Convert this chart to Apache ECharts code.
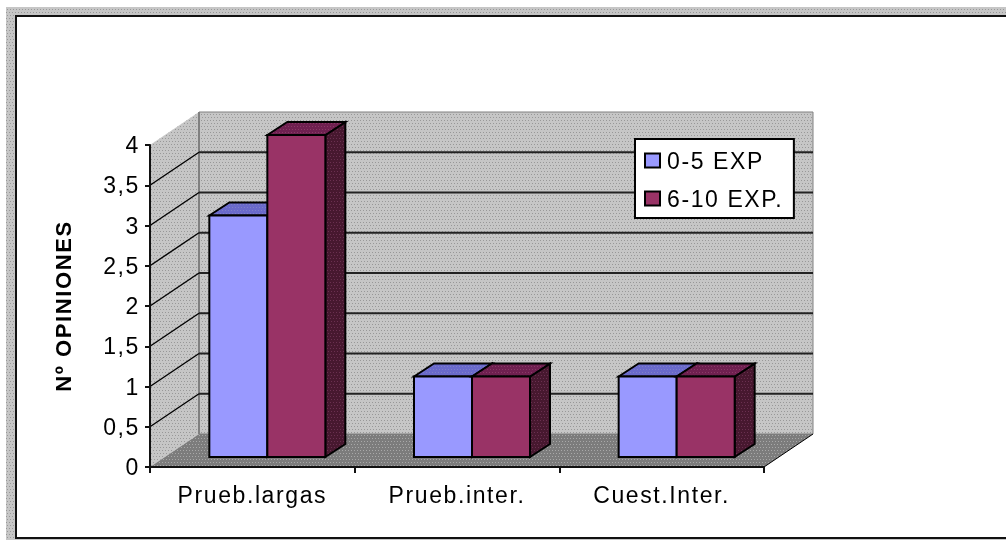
<!DOCTYPE html>
<html>
<head>
<meta charset="utf-8">
<style>
  html, body { margin: 0; padding: 0; background: #fff; }
  #main { width: 1006px; height: 540px; filter: blur(0.45px); }
  #main text { letter-spacing: 1.6px; }
</style>
<script src="https://cdn.jsdelivr.net/npm/echarts@6/dist/echarts.min.js"></script>
</head>
<body>
<div id="main"></div>
<script>
var categories = ['Prueb.largas', 'Prueb.inter.', 'Cuest.Inter.']
var seriesNames = ['0-5 EXP', '6-10 EXP.']
var lowExp = [3, 1, 1]
var highExp = [4, 1, 1]
var gridTicks = [0.5, 1, 1.5, 2, 2.5, 3, 3.5]

// offsets of the fake 3d box, px
var WALL_DX = 49, WALL_DY = 33
var BAR_DX = 15, BAR_DY = 10
var DEPTH_X = 20, DEPTH_Y = 13
var BAR_W = 58

function dither(base, dot) {
  var c = document.createElement('canvas')
  c.width = 6
  c.height = 6
  var ctx = c.getContext('2d')
  ctx.fillStyle = base
  ctx.fillRect(0, 0, 6, 6)
  ctx.fillStyle = dot
  ctx.fillRect(0, 0, 1, 1)
  ctx.fillRect(3, 0, 1, 1)
  ctx.fillRect(1, 3, 1, 1)
  ctx.fillRect(4, 3, 1, 1)
  return { image: c, repeat: 'repeat' }
}

var wallFill = dither('#c6c6c6', '#989898')
var floorFill = dither('#7c7c7c', '#a8a8a8')

function renderBox(params, api) {
  var s = params.coordSys
  var x0 = s.x, x1 = s.x + s.width, top = s.y, bot = s.y + s.height
  var kids = [
    { type: 'polygon', shape: { points: [[x0, top], [x0 + WALL_DX, top - WALL_DY], [x0 + WALL_DX, bot - WALL_DY], [x0, bot]] }, style: { fill: wallFill } },
    { type: 'rect', shape: { x: x0 + WALL_DX, y: top - WALL_DY, width: s.width, height: s.height }, style: { fill: wallFill, stroke: '#808080', lineWidth: 1 } },
    { type: 'polygon', shape: { points: [[x0, bot], [x0 + WALL_DX, bot - WALL_DY], [x1 + WALL_DX, bot - WALL_DY], [x1, bot]] }, style: { fill: floorFill } },
    { type: 'line', shape: { x1: x0 + WALL_DX, y1: top - WALL_DY, x2: x0 + WALL_DX, y2: bot - WALL_DY }, style: { stroke: '#808080', lineWidth: 2 } },
    { type: 'line', shape: { x1: x1, y1: bot, x2: x1 + WALL_DX, y2: bot - WALL_DY }, style: { stroke: '#000', lineWidth: 1 } }
  ]
  gridTicks.forEach(function (t) {
    var y = api.coord([0, t])[1]
    kids.push({ type: 'line', shape: { x1: x0, y1: y, x2: x0 + WALL_DX, y2: y - WALL_DY }, style: { stroke: '#000', lineWidth: 1.4 } })
    kids.push({ type: 'line', shape: { x1: x0 + WALL_DX, y1: y - WALL_DY, x2: x1 + WALL_DX, y2: y - WALL_DY }, style: { stroke: '#222', lineWidth: 2 } })
  })
  return { type: 'group', children: kids }
}

function barRenderer(shift, front, topFill, sideFill) {
  return function (params, api) {
    var base = api.coord([api.value(0), 0])
    var head = api.coord([api.value(0), api.value(1)])
    var l = base[0] + BAR_DX + shift * BAR_W
    var r = l + BAR_W
    var b = base[1] - BAR_DY
    var t = head[1] - BAR_DY
    var line = { stroke: '#000', lineWidth: 2, lineJoin: 'miter' }
    return {
      type: 'group',
      children: [
        { type: 'polygon', shape: { points: [[r, t], [r + DEPTH_X, t - DEPTH_Y], [r + DEPTH_X, b - DEPTH_Y], [r, b]] }, style: Object.assign({ fill: sideFill }, line) },
        { type: 'polygon', shape: { points: [[l, t], [l + DEPTH_X, t - DEPTH_Y], [r + DEPTH_X, t - DEPTH_Y], [r, t]] }, style: Object.assign({ fill: topFill }, line) },
        { type: 'rect', shape: { x: l, y: t, width: BAR_W, height: b - t }, style: Object.assign({ fill: front }, line) }
      ]
    }
  }
}

function toPairs(vals) {
  return vals.map(function (v, i) { return [i, v] })
}

var chart = echarts.init(document.getElementById('main'), null, { renderer: 'svg' })
chart.setOption({
  animation: false,
  backgroundColor: '#fff',
  textStyle: { fontFamily: 'Liberation Sans', color: '#000' },
  graphic: [
    { type: 'rect', z: -10, shape: { x: 6, y: 7, width: 1000, height: 533 }, style: { fill: wallFill } },
    { type: 'rect', z: -9, shape: { x: 16, y: 16, width: 1000, height: 522 }, style: { fill: '#fff', stroke: '#111', lineWidth: 2 } }
  ],
  grid: { left: 150, right: 242, top: 145, bottom: 73 },
  legend: {
    data: seriesNames,
    orient: 'vertical',
    left: 635,
    top: 139,
    padding: [10, 25, 8, 9],
    itemGap: 15,
    itemWidth: 15,
    itemHeight: 14,
    icon: 'rect',
    backgroundColor: '#fff',
    borderColor: '#000',
    borderWidth: 2,
    itemStyle: { borderColor: '#000', borderWidth: 2 },
    textStyle: { fontFamily: 'Liberation Sans', fontSize: 23, color: '#000', padding: [0, 0, 0, 2] }
  },
  xAxis: {
    type: 'category',
    z: 6,
    data: categories,
    axisLine: { show: true, lineStyle: { color: '#111', width: 2 } },
    axisTick: { show: true, length: 6, lineStyle: { color: '#111', width: 2 } },
    axisLabel: { fontFamily: 'Liberation Sans', fontSize: 23, color: '#000', margin: 16 }
  },
  yAxis: {
    type: 'value',
    z: 6,
    min: 0,
    max: 4,
    interval: 0.5,
    name: 'Nº OPINIONES',
    nameLocation: 'middle',
    nameGap: 76,
    nameTextStyle: { fontFamily: 'Liberation Sans', fontSize: 22, fontWeight: 'bold', color: '#000' },
    axisLine: { show: true, lineStyle: { color: '#111', width: 2 } },
    axisTick: { show: true, length: 5, lineStyle: { color: '#111', width: 2 } },
    splitLine: { show: false },
    axisLabel: {
      fontFamily: 'Liberation Sans',
      fontSize: 23,
      color: '#000',
      margin: 10,
      formatter: function (v) { return String(v).replace('.', ',') }
    }
  },
  series: [
    { name: 'box', type: 'custom', silent: true, z: 1, data: [[0, 0]], renderItem: renderBox },
    {
      name: seriesNames[0],
      type: 'custom',
      z: 2,
      itemStyle: { color: '#9999ff' },
      encode: { x: 0, y: 1 },
      data: toPairs(lowExp),
      renderItem: barRenderer(-1, '#9999ff', dither('#6a6acb', '#8080c8'), dither('#3c1a3c', '#5a2a50'))
    },
    {
      name: seriesNames[1],
      type: 'custom',
      z: 3,
      itemStyle: { color: '#993366' },
      encode: { x: 0, y: 1 },
      data: toPairs(highExp),
      renderItem: barRenderer(0, '#993366', dither('#6f2050', '#8a3a66'), dither('#47182f', '#6a3050'))
    }
  ]
})
</script>
</body>
</html>
